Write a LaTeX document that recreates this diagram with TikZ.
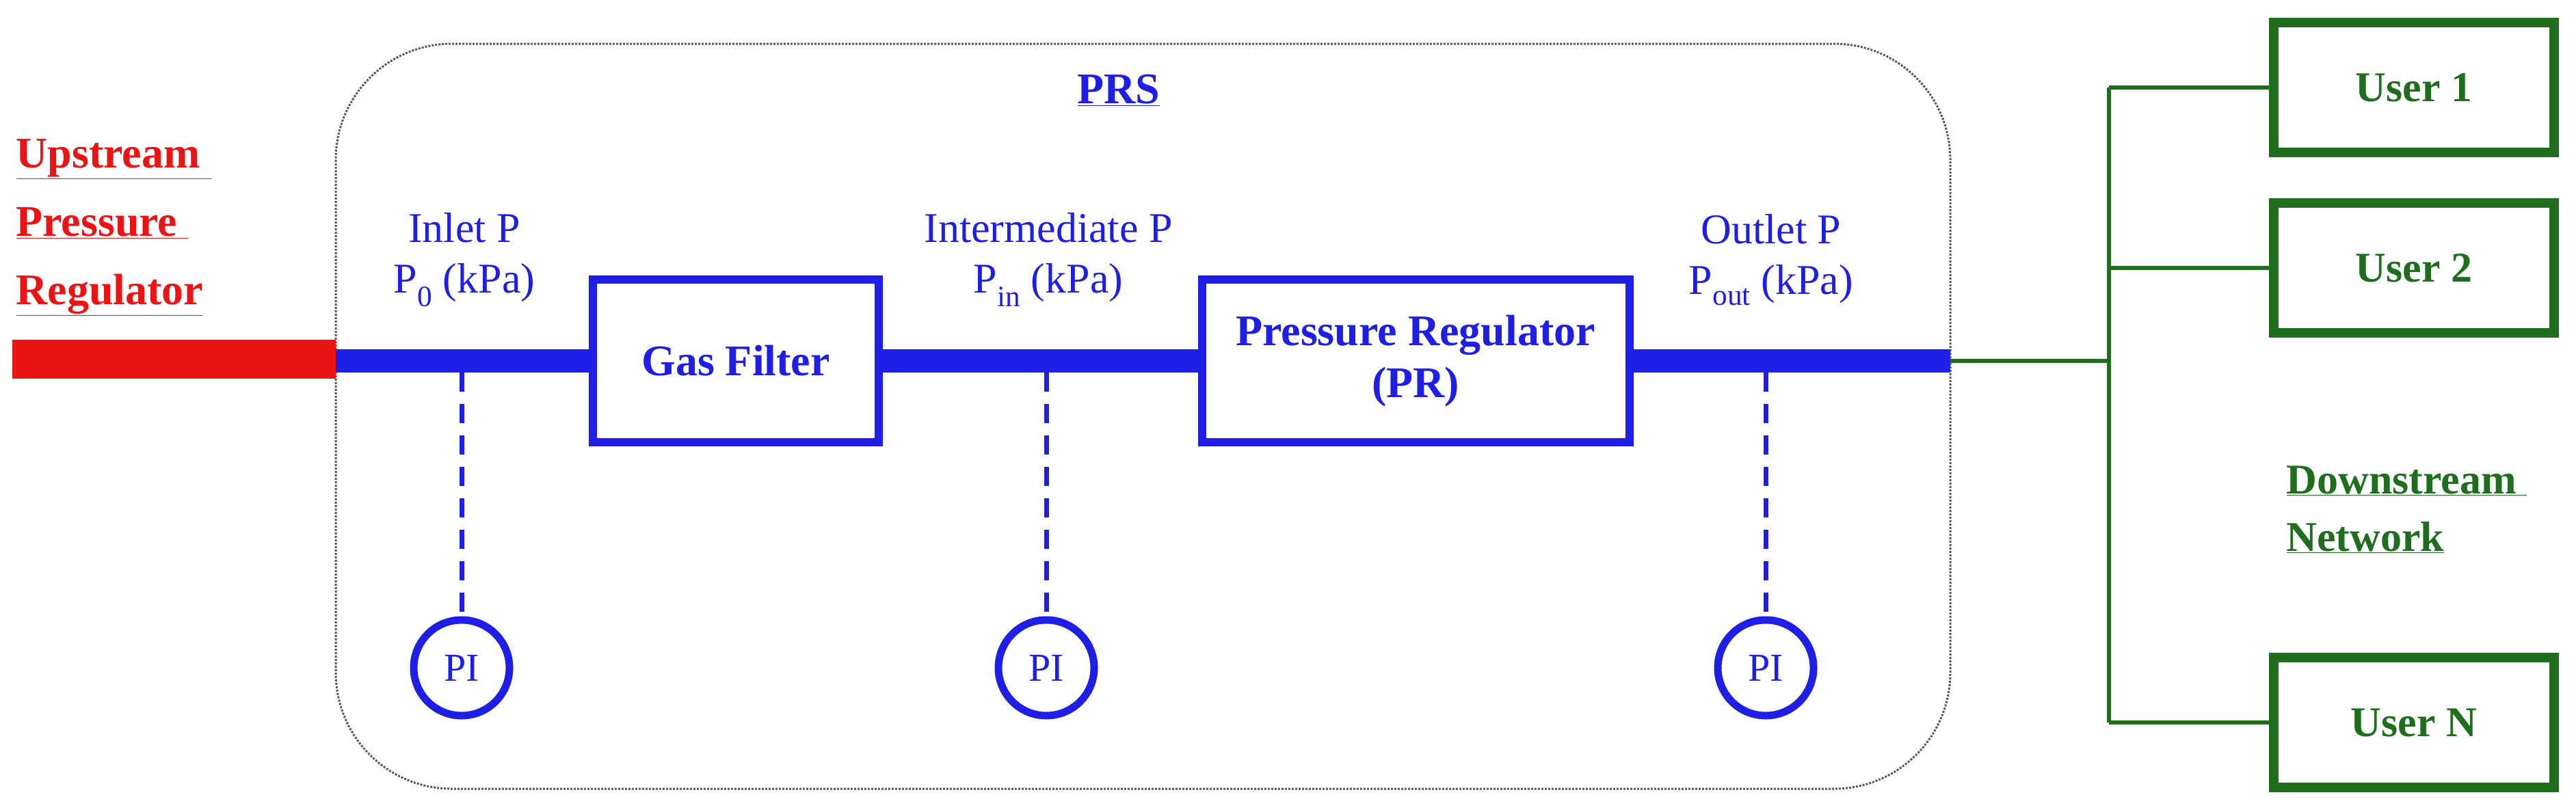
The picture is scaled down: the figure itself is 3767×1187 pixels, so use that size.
\documentclass[tikz,border=0pt]{standalone}
\usepackage{fontspec}
\setmainfont{Liberation Serif}
\definecolor{pblue}{RGB}{30,30,230}
\definecolor{pred}{RGB}{235,20,20}
\definecolor{pgreen}{RGB}{30,110,30}
\begin{document}
\begin{tikzpicture}[x=1pt,y=-1pt,
  big/.style={font=\fontsize{62}{74}\selectfont},
  box/.style={draw=pblue,line width=12pt,inner sep=0pt,text=pblue,font=\fontsize{64}{76}\selectfont\bfseries,align=center},
  ubox/.style={draw=pgreen,line width=14pt,inner sep=0pt,minimum width=410pt,minimum height=190pt,text=pgreen,font=\fontsize{62}{74}\selectfont\bfseries},
  pi/.style={circle,draw=pblue,line width=11pt,minimum size=140pt,inner sep=0pt,text=pblue,font=\fontsize{58}{70}\selectfont},
  lab/.style={text=pblue,big,align=center},
  pipe/.style={draw=pblue,line width=34pt},
  gl/.style={draw=pgreen,line width=6pt},
  dsh/.style={draw=pblue,line width=7pt,dash pattern=on 28pt off 18pt}]
\useasboundingbox (0,0) rectangle (3767,1187);
\draw[gray!70!black,line width=3pt,dotted,rounded corners=170pt] (491,64) rectangle (2852,1154);
\node[text=pblue,font=\fontsize{64}{76}\selectfont\bfseries] (prs) at (1636,132) {\underline{PRS}};
\node[text=pred,font=\fontsize{64}{100}\selectfont\bfseries,align=left,anchor=west] (up) at (20,333) {\underline{Upstream\ }\\\underline{Pressure\ }\\\underline{Regulator}};
\node[fill=pred,minimum width=473pt,minimum height=57pt,inner sep=0pt,anchor=east] (red) at (491,525) {};
\coordinate (a) at (491,528);
\node[box,minimum width=418pt,minimum height=238pt] (gf) at (1076,528) {Gas Filter};
\node[box,minimum width=625pt,minimum height=238pt] (pr) at (2070,528) {Pressure Regulator\\(PR)};
\coordinate (b) at (2852,528);
\draw[pipe] (a) -- (gf.west);
\draw[pipe] (gf.east) -- (pr.west);
\draw[pipe] (pr.east) -- (b);
\node[lab] (l1) at (679,380) {Inlet P\\P\textsubscript{0} (kPa)};
\node[lab] (l2) at (1533,380) {Intermediate P\\P\textsubscript{in} (kPa)};
\node[lab] (l3) at (2590,380) {Outlet P\\P\textsubscript{out} (kPa)};
\node[pi] (pi1) at (675,977) {PI};
\node[pi] (pi2) at (1530,977) {PI};
\node[pi] (pi3) at (2582,977) {PI};
\coordinate (t1) at (675,545); \coordinate (t2) at (1530,545); \coordinate (t3) at (2582,545);
\draw[dsh] (t1) -- (pi1.north);
\draw[dsh] (t2) -- (pi2.north);
\draw[dsh] (t3) -- (pi3.north);
\node[ubox] (u1) at (3530,128) {User 1};
\node[ubox] (u2) at (3530,392) {User 2};
\node[ubox] (un) at (3530,1057) {User N};
\coordinate (j) at (3084,528);
\coordinate (jt) at (3084,128);
\coordinate (j2) at (3084,392);
\coordinate (jb) at (3084,1057);
\draw[gl] (b) -- (j);
\draw[gl] (jt) -- (jb);
\draw[gl] (jt) -- (u1.west);
\draw[gl] (j2) -- (u2.west);
\draw[gl] (jb) -- (un.west);
\node[text=pgreen,font=\fontsize{62}{84}\selectfont\bfseries,align=left,anchor=west] (dn) at (3340,745) {\underline{Downstream\ }\\\underline{Network}};
\end{tikzpicture}
\end{document}
